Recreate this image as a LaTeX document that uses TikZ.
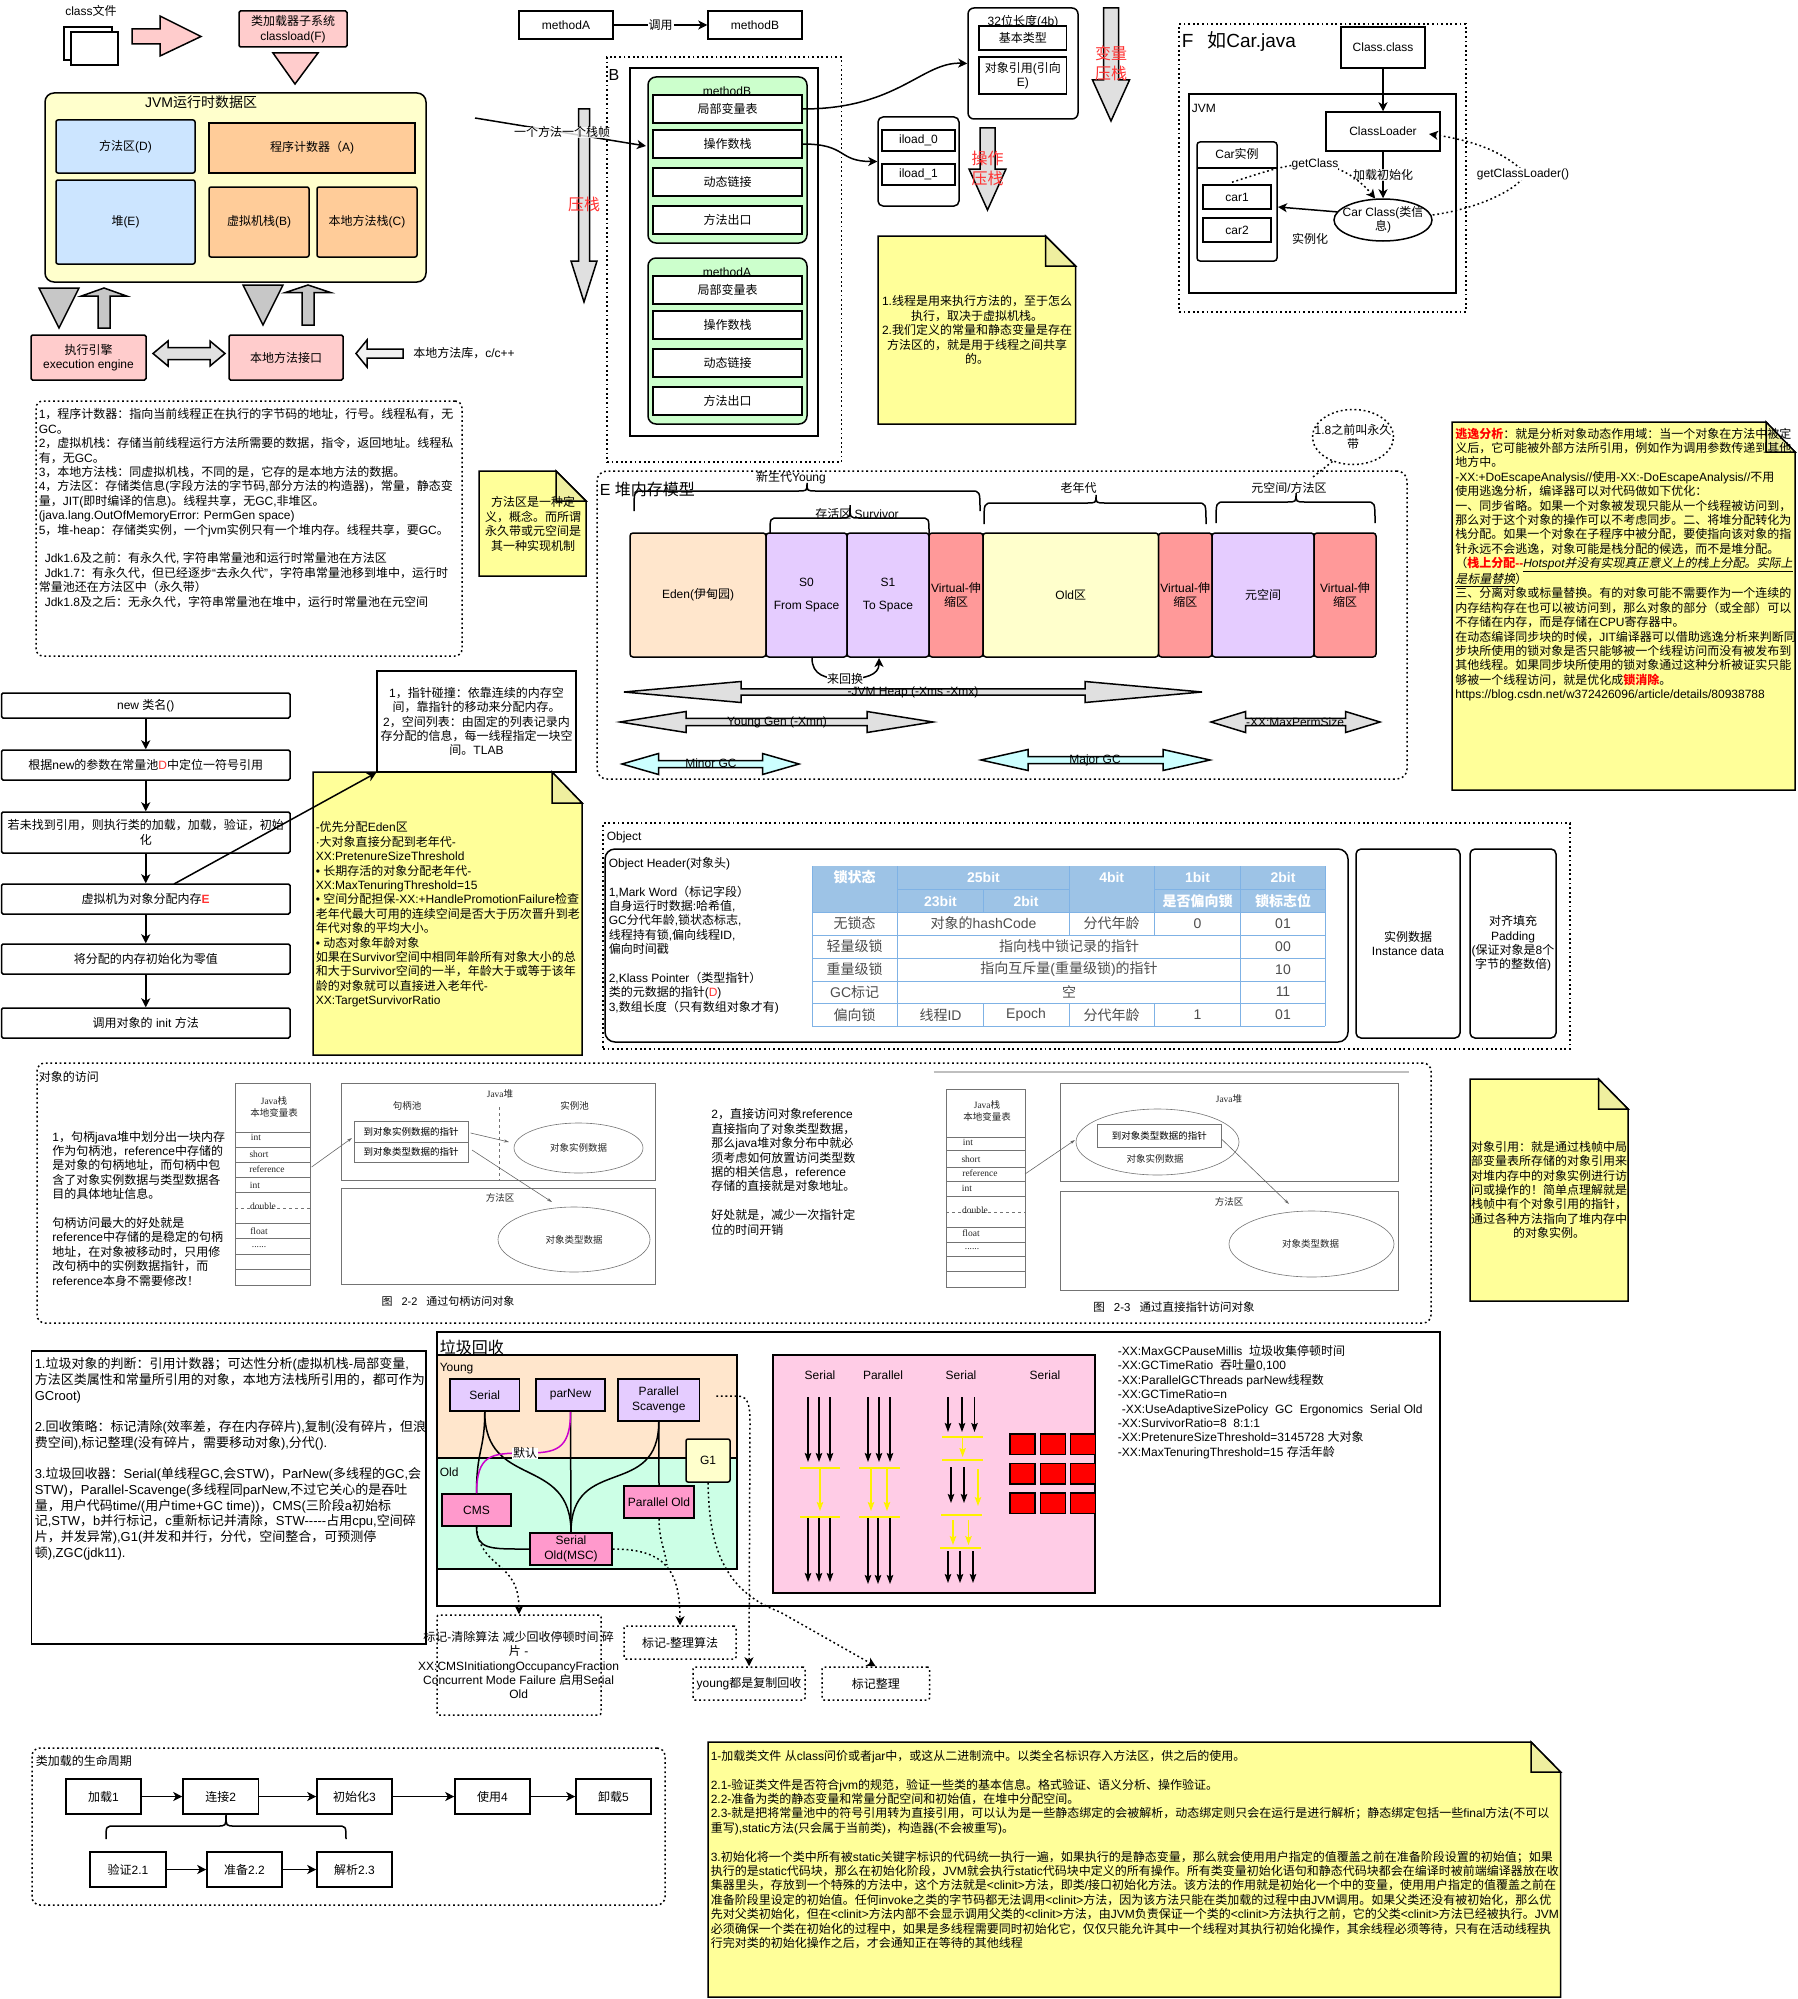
\documentclass[tikz,border=0pt]{standalone}
\usepackage{fontspec}
\setmainfont{Liberation Sans}
\newfontfamily\cjk[AutoFakeSlant=0.2]{Noto Sans CJK SC}
\newfontfamily\imgfont{Liberation Serif}
\usetikzlibrary{arrows.meta,shapes.geometric}

% latin text and hanzi each get their own font
\XeTeXinterchartokenstate=1
\newXeTeXintercharclass\cjkclass
\newcount\cjkchar
\cjkchar="3000
\loop\ifnum\cjkchar<"A000 \XeTeXcharclass\cjkchar=\cjkclass \advance\cjkchar by 1 \repeat
\cjkchar="FF00
\loop\ifnum\cjkchar<"FFF0 \XeTeXcharclass\cjkchar=\cjkclass \advance\cjkchar by 1 \repeat
\XeTeXcharclass"201C=0
\XeTeXcharclass"201D=0
\XeTeXinterchartoks 0 \cjkclass={\cjk}
\XeTeXinterchartoks 4095 \cjkclass={\cjk}
\XeTeXinterchartoks \cjkclass 0={\rmfamily}
\XeTeXinterchartoks \cjkclass 4095={\rmfamily}

\definecolor{pinkfill}{HTML}{FFCCCC}
\definecolor{yellowfill}{HTML}{FFFFCC}
\definecolor{bluefill}{HTML}{CCE5FF}
\definecolor{orangefill}{HTML}{FFCC99}
\definecolor{greenfill}{HTML}{CCFFCC}
\definecolor{peachfill}{HTML}{FFE6CC}
\definecolor{purplefill}{HTML}{E5CCFF}
\definecolor{redfill}{HTML}{FF9999}
\definecolor{mintfill}{HTML}{CCFFE6}
\definecolor{rosefill}{HTML}{FF99CC}
\definecolor{lightrose}{HTML}{FFCCE6}
\definecolor{cyanfill}{HTML}{CCFFFF}
\definecolor{notefill}{HTML}{FFFF99}
\definecolor{foldfill}{HTML}{EFEF9F}
\definecolor{tablehead}{HTML}{9DC3E6}
\definecolor{tableline}{HTML}{7FB2E5}
\definecolor{redtext}{HTML}{FF3333}
\definecolor{defaultpath}{HTML}{CC00CC}

\tikzset{
  every node/.style={font=\fontsize{12}{14.4}\selectfont,align=center,inner sep=0pt},
  every path/.style={line width=1.5pt},
  cellbox/.style={draw,fill=white},
  softbox/.style={draw,rounded corners=4pt},
  dotbox/.style={draw,rounded corners=7pt,dash pattern=on 1.8pt off 2.8pt},
  flow/.style={-{Stealth[length=9pt,width=9pt,inset=2.5pt]}},
  dotflow/.style={flow,dash pattern=on 1.8pt off 2.8pt},
  thinflow/.style={-{Stealth[length=9pt,width=6.5pt,inset=1.5pt]},line width=1.2pt},
  yellowflow/.style={thinflow,yellow},
  yellowbar/.style={yellow,line width=1.6pt},
  graywhite/.style={draw,fill=black!12},
  graytip/.style={draw,fill=black!22},
  imgline/.style={draw=black!55,line width=0.6pt},
  imgflow/.style={black!60,line width=0.6pt,-{Stealth[length=5pt,width=3pt]}},
  imgtext/.style={font=\fontsize{9.5}{12}\selectfont\imgfont,black!85},
  redword/.style={font=\fontsize{16}{20}\selectfont,redtext},
  bigword/.style={font=\fontsize{16}{19}\selectfont},
  bracepath/.style={line width=1.5pt},
  headcell/.style={font=\fontsize{14}{16}\selectfont\bfseries,white},
  datacell/.style={font=\fontsize{14}{16}\selectfont,black!70},
}

% node given by its corners
\newcommand{\boxat}[7][cellbox]{\node[#1,minimum width={#5-#3},minimum height={#6-#4}] (#2) at ({(#3+#5)/2},{(#4+#6)/2}) {#7};}
% sheet with a folded corner
\newcommand{\notesheet}[6]{%
  \draw[fill=notefill] (#1,#2) -- (#5,#2) -- (#3,#6) -- (#3,#4) -- (#1,#4) -- cycle;
  \draw[fill=foldfill] (#5,#2) -- (#3,#6) -- (#5,#6) -- cycle;}
% two-headed horizontal block arrow
\newcommand{\hdouble}[7]{\draw[#1] (#2,#4) -- ({#2+#5},{#4-#6}) -- ({#2+#5},{#4-#7}) -- ({#3-#5},{#4-#7}) -- ({#3-#5},{#4-#6}) -- (#3,#4) -- ({#3-#5},{#4+#6}) -- ({#3-#5},{#4+#7}) -- ({#2+#5},{#4+#7}) -- ({#2+#5},{#4+#6}) -- cycle;}
% vertical block arrow: x, tail, tip, head base, head half, shaft half
\newcommand{\vblock}[7]{\draw[#1] ({#2-#7},#3) -- ({#2-#7},#5) -- ({#2-#6},#5) -- (#2,#4) -- ({#2+#6},#5) -- ({#2+#7},#5) -- ({#2+#7},#3) -- cycle;}
% curly brace opening downwards
\newcommand{\topbrace}[6]{\draw[bracepath] (#1,#3) .. controls (#1,#4) .. ({#1+9},#4) -- ({#5-9},#4) .. controls (#5,#4) .. (#5,#6) .. controls (#5,#4) .. ({#5+9},#4) -- ({#2-9},#4) .. controls (#2,#4) .. (#2,#3);}

\begin{document}
\begin{tikzpicture}[x=1pt,y=-1pt]
\useasboundingbox (0,0) rectangle (1798,1999);

% class loading and runtime areas
\node (classfile) at (91,11) {class文件};
\draw[fill=white] (64,27) rectangle (112,60);
\draw[fill=white] (71,32) rectangle (118,65);
\draw[fill=pinkfill] (132,29) -- (160,29) -- (160,16) -- (201,36.5) -- (160,56) -- (160,44) -- (132,44) -- cycle;
\boxat[softbox,fill=pinkfill,rounded corners=1.5pt]{loader}{239}{11}{347}{47}{类加载器子系统\\classload(F)}
\draw[fill=pinkfill] (273,53) -- (318,53) -- (295,84) -- cycle;
\boxat[softbox,fill=yellowfill,rounded corners=9pt]{jvmarea}{45}{93}{426}{282}{}
\node[font=\fontsize{14}{16}\selectfont] (jvmtitle) at (201,102) {JVM运行时数据区};
\boxat[softbox,fill=bluefill,rounded corners=2pt]{methodarea}{56}{120}{195}{173}{方法区(D)}
\boxat[softbox,fill=bluefill,rounded corners=2pt]{heaparea}{56}{180}{195}{264}{堆(E)}
\boxat[cellbox,fill=orangefill]{pcarea}{209}{123}{415}{173}{程序计数器（A)}
\boxat[softbox,fill=orangefill,rounded corners=2pt]{vmstack}{209}{187}{309}{257}{虚拟机栈(B)}
\boxat[softbox,fill=orangefill,rounded corners=2pt]{nativestack}{317}{187}{417}{257}{本地方法栈(C)}
\draw[graytip] (39,288) -- (79,288) -- (59,328) -- cycle;
\vblock{graytip}{104}{328}{288}{296}{22.5}{6}
\draw[graytip] (243,285) -- (283,285) -- (263,325) -- cycle;
\vblock{graytip}{308}{325}{285}{292.5}{22.5}{6}
\boxat[softbox,fill=pinkfill,rounded corners=1.5pt]{engine}{31}{335}{146}{380}{执行引擎\\execution engine}
\boxat[softbox,fill=pinkfill,rounded corners=1.5pt]{nativeport}{229}{335}{343}{380}{本地方法接口}
\hdouble{graywhite}{153}{225}{353.5}{15}{12.5}{6}
\draw[fill=black!5] (356,353.5) -- (367,340) -- (367,349) -- (403,349) -- (403,358) -- (367,358) -- (367,367) -- cycle;
\node[anchor=west] (nativelib) at (412.5,353) {本地方法库，c/c++};
\boxat[dotbox]{areanotes}{36}{401}{462}{656}{}
\node[anchor=west,align=left] (areatext) at (38,508) {1，程序计数器：指向当前线程正在执行的字节码的地址，行号。线程私有，无\\
GC。\\
2，虚拟机栈：存储当前线程运行方法所需要的数据，指令，返回地址。线程私\\
有，无GC。\\
3，本地方法栈：同虚拟机栈，不同的是，它存的是本地方法的数据。\\
4，方法区：存储类信息(字段方法的字节码,部分方法的构造器)，常量，静态变\\
量，JIT(即时编译的信息)。线程共享，无GC,非堆区。\\
(java.lang.OutOfMemoryError: PermGen space)\\
5，堆-heap：存储类实例，一个jvm实例只有一个堆内存。线程共享，要GC。\\[14.4pt]
\hspace*{6pt}Jdk1.6及之前：有永久代, 字符串常量池和运行时常量池在方法区\\
\hspace*{6pt}Jdk1.7：有永久代，但已经逐步“去永久代”，字符串常量池移到堆中，运行时\\
常量池还在方法区中（永久带）\\
\hspace*{6pt}Jdk1.8及之后：无永久代，字符串常量池在堆中，运行时常量池在元空间};
\notesheet{479}{471}{586}{576}{556}{501}
\node (methodnote) at (533,524) {方法区是一种定\\义，概念。而所谓\\永久带或元空间是\\其一种实现机制};

% stack frames
\boxat{callerA}{519}{11}{613}{39}{methodA}
\boxat{calleeB}{708}{11}{802}{39}{methodB}
\draw[flow] (callerA) -- node[fill=white,inner xsep=1pt] (calllabel) {调用} (calleeB);
\boxat[dotbox,rounded corners=0pt]{stackdots}{607}{57}{841.5}{462}{}
\node[bigword] (stacktag) at (614,75) {B};
\draw (630,68) rectangle (818,436);
\boxat[softbox,fill=greenfill,rounded corners=8pt]{frameB}{648}{77}{807}{243}{}
\boxat[softbox,fill=greenfill,rounded corners=8pt]{frameA}{648}{258}{807}{424}{}
\node (frameBtitle) at (727,91) {methodB};
\node (frameAtitle) at (727,272) {methodA};
\boxat{varsB}{653}{95}{802}{123}{局部变量表}
\boxat{opsB}{653}{130}{802}{158}{操作数栈}
\boxat{linkB}{653}{168}{802}{196}{动态链接}
\boxat{exitB}{653}{206}{802}{234}{方法出口}
\boxat{varsA}{653}{276}{802}{304}{局部变量表}
\boxat{opsA}{653}{311}{802}{339}{操作数栈}
\boxat{linkA}{653}{349}{802}{377}{动态链接}
\boxat{exitA}{653}{387}{802}{415}{方法出口}
\vblock{graywhite}{584}{109}{302}{261}{13}{5.5}
\node[redword] (pushword) at (584,204) {压栈};
\coordinate (framestart) at (475,118);
\coordinate (frameport) at (646,146);
\draw[flow] (framestart) -- (frameport) node[pos=0.51,fill=white,fill opacity=0.8,text opacity=1] (framelabel) {一个方法一个栈帧};
\boxat[softbox,rounded corners=6pt]{slots}{968}{8}{1078}{119}{}
\node (slotwidth) at (1023,22) {32位长度(4b)};
\boxat{primtype}{979}{26}{1066.5}{50}{基本类型}
\boxat{objref}{979}{57}{1066.5}{94}{对象引用(引向\\E)}
\draw[flow] (varsB.east) .. controls +(95,0) and +(-45,-2) .. (slots.west);
\boxat[softbox,rounded corners=5pt]{iloads}{878}{117}{959}{206}{}
\boxat{iloadzero}{882}{130}{955}{151}{iload\_0}
\boxat{iloadone}{882}{164}{955}{185}{iload\_1}
\draw[flow] (opsB.east) .. controls +(45,0) and +(-40,0) .. (iloads.west);
\vblock{graywhite}{1111}{8}{121}{80}{18.5}{7.5}
\node[redword] (varpush) at (1111,63) {变量\\压栈};
\vblock{graywhite}{987.5}{128}{210}{169}{18.5}{7.5}
\node[redword] (oppush) at (987.5,168) {操作\\压栈};
\notesheet{878}{236}{1075.5}{424}{1045.5}{266}
\node (threadnote) at (977,330) {1.线程是用来执行方法的，至于怎么\\执行，取决于虚拟机栈。\\2.我们定义的常量和静态变量是存在\\方法区的，就是用于线程之间共享\\的。};

% Car.java
\boxat[dotbox,rounded corners=0pt]{carframe}{1179}{24}{1466}{312}{}
\node[anchor=west,font=\fontsize{19}{21}\selectfont] (cartitle) at (1181,42) {F\hspace{14pt}如Car.java};
\boxat[draw]{jvmbox}{1189}{94}{1456}{293}{}
\node[anchor=west] (jvmtag) at (1191,108) {JVM};
\boxat{classclass}{1341}{27}{1425}{68}{Class.class}
\boxat{classloader}{1326}{112}{1440}{151}{ClassLoader}
\boxat[softbox,rounded corners=3pt]{carshell}{1197}{142}{1277}{261}{}
\draw (1197,168) -- (1277,168);
\node (cartag) at (1237,154) {Car实例};
\boxat{carone}{1203}{185}{1271}{209}{car1}
\boxat{cartwo}{1203}{218}{1271}{242}{car2}
\node[draw,ellipse,fill=white,minimum width=98pt,minimum height=42pt] (carclass) at (1383,220) {};
\node (carclasstext) at (1383,220) {Car Class(类信\\息)};
\draw[flow] (classclass) -- (classloader);
\draw[flow] (classloader) -- node[fill=white,fill opacity=0.8,text opacity=1] (loadlabel) {加载初始化} (carclass);
\coordinate (carinlet) at (1278,207);
\draw[flow] (carclass.170) -- (carinlet);
\node (instlabel) at (1310,239) {实例化};
\coordinate (getclassmid) at (1315,164);
\coordinate (loaderport) at (1429,134);
\draw[dash pattern=on 1.8pt off 2.8pt] (carone.north) ++(-5,-2) .. controls (1270,170) and (1290,163) .. (getclassmid);
\draw[dotflow] (getclassmid) .. controls (1340,165) and (1360,180) .. (carclass.110);
\node[fill=white] (getclasslabel) at (getclassmid) {getClass};
\draw[dotflow] (carclass.east) ++(0,-5) .. controls (1500,205) and (1535,175) .. (1522,170) .. controls (1500,150) and (1470,140) .. (loaderport);
\node[fill=white] (getloaderlabel) at (1523,174) {getClassLoader()};

% object creation
\boxat[softbox,rounded corners=1.5pt]{newbox}{1.5}{693}{290}{718}{new 类名()}
\boxat[softbox,rounded corners=1.5pt]{lookup}{1.5}{750}{290}{780}{根据new的参数在常量池{\color{redtext}D}中定位一符号引用}
\boxat[softbox,rounded corners=1.5pt]{loadstep}{1.5}{812}{290}{853}{若未找到引用，则执行类的加载，加载，验证，初始\\化}
\boxat[softbox,rounded corners=1.5pt]{allocbox}{1.5}{884}{290}{914}{虚拟机为对象分配内存{\color{redtext}\bfseries E}}
\boxat[softbox,rounded corners=1.5pt]{zerobox}{1.5}{944}{290}{974}{将分配的内存初始化为零值}
\boxat[softbox,rounded corners=1.5pt]{initbox}{1.5}{1008}{290}{1038}{调用对象的 init 方法}
\draw[flow] (newbox) -- (lookup);
\draw[flow] (lookup) -- (loadstep);
\draw[flow] (loadstep) -- (allocbox);
\draw[flow] (allocbox) -- (zerobox);
\draw[flow] (zerobox) -- (initbox);
\boxat{tlabbox}{377}{671}{576}{772}{1，指针碰撞：依靠连续的内存空\\间，靠指针的移动来分配内存。\\2，空间列表：由固定的列表记录内\\存分配的信息，每一线程指定一块空\\间。TLAB}
\notesheet{313}{772}{582}{1055}{552}{803}
\node[anchor=west,align=left] (allocnote) at (315,914.5) {-优先分配Eden区\\
·大对象直接分配到老年代-\\
XX:PretenureSizeThreshold\\
• 长期存活的对象分配老年代-\\
XX:MaxTenuringThreshold=15\\
• 空间分配担保-XX:+HandlePromotionFailure检查\\
老年代最大可用的连续空间是否大于历次晋升到老\\
年代对象的平均大小。\\
• 动态对象年龄对象\\
如果在Survivor空间中相同年龄所有对象大小的总\\
和大于Survivor空间的一半，年龄大于或等于该年\\
龄的对象就可以直接进入老年代-\\
XX:TargetSurvivorRatio};
\draw[flow] (174,884) -- (tlabbox.south west);

% heap layout
\boxat[dotbox,rounded corners=10pt]{heapframe}{597}{471}{1407}{779}{}
\node[anchor=west,bigword] (heaptitle) at (599,489) {E 堆内存模型};
\foreach \bx/\ex/\col/\bname/\btext in {
  630/766/peachfill/edenbox/Eden(伊甸园),
  766/847/purplefill/szero/S0\\[8pt]From Space,
  847/929/purplefill/sone/S1\\[8pt]To Space,
  929/983/redfill/virtone/Virtual-伸\\缩区,
  983/1158.5/yellowfill/oldbox/Old区,
  1158.5/1212/redfill/virttwo/Virtual-伸\\缩区,
  1212/1314/purplefill/metabox/元空间,
  1314/1376/redfill/virtthree/Virtual-伸\\缩区}
  {\boxat[softbox,fill=\col,rounded corners=3pt]{\bname}{\bx}{533}{\ex}{657}{\btext}}
\topbrace{634}{980}{511}{491}{807}{483}
\node (younglabel) at (791,478) {新生代Young};
\topbrace{770}{929}{533}{518}{850}{505}
\node (survivorlabel) at (857,514) {存活区 Survivor};
\topbrace{984}{1206}{524}{503}{1096}{495}
\node (oldlabel) at (1078.5,488) {老年代};
\topbrace{1216}{1375}{523}{502}{1296}{493}
\node (metalabel) at (1289,488) {元空间/方法区};
\coordinate (swapend) at (879,658);
\draw[flow] (812,658) .. controls (812,675) and (825,679) .. (845,679) .. controls (865,679) and (879,675) .. (swapend);
\node[fill=white] (swaplabel) at (845,679) {来回换};
\hdouble{graywhite}{624}{1202}{692}{117}{10.5}{3.2}
\node (heaplabel) at (913,692) {-JVM Heap (-Xms -Xmx)};
\hdouble{graywhite}{620}{933}{722}{66}{10.5}{3.7}
\node (younggen) at (777,722) {Young Gen (-Xmn)};
\hdouble{graywhite}{1211}{1380}{722}{34.5}{10.5}{3.7}
\node (permsize) at (1295,722) {-XX:MaxPermSize};
\hdouble{fill=cyanfill,draw}{622}{799}{764}{36.5}{10.5}{3.5}
\node (minorgc) at (711,763.5) {Minor GC};
\hdouble{fill=cyanfill,draw}{981}{1210}{760}{47}{10.5}{3.5}
\node (majorgc) at (1095,760) {Major GC};
\node[draw,ellipse,dash pattern=on 1.8pt off 2.8pt,minimum width=81pt,minimum height=55pt] (permcloud) at (1353,437) {};
\node (permtext) at (1353,437) {1.8之前叫永久\\带};
\draw[dash pattern=on 1.8pt off 2.8pt] (permcloud.230) -- (1313,477);

% escape analysis note
\notesheet{1452}{422}{1795}{790}{1766}{452}
\node[anchor=west,align=left] (escapenote) at (1454.5,564.5) {{\color{red}\bfseries 逃逸分析}：就是分析对象动态作用域：当一个对象在方法中被定\\
义后，它可能被外部方法所引用，例如作为调用参数传递到其他\\
地方中。\\
-XX:+DoEscapeAnalysis//使用-XX:-DoEscapeAnalysis//不用\\
使用逃逸分析，编译器可以对代码做如下优化：\\
一、同步省略。如果一个对象被发现只能从一个线程被访问到，\\
那么对于这个对象的操作可以不考虑同步。二、将堆分配转化为\\
栈分配。如果一个对象在子程序中被分配，要使指向该对象的指\\
针永远不会逃逸，对象可能是栈分配的候选，而不是堆分配。\\
（{\color{red}\bfseries 栈上分配-{}-}\underline{\itshape Hotspot并没有实现真正意义上的栈上分配。实际上}\\
\underline{\itshape 是标量替换}）\\
三、分离对象或标量替换。有的对象可能不需要作为一个连续的\\
内存结构存在也可以被访问到，那么对象的部分（或全部）可以\\
不存储在内存，而是存储在CPU寄存器中。\\
在动态编译同步块的时候，JIT编译器可以借助逃逸分析来判断同\\
步块所使用的锁对象是否只能够被一个线程访问而没有被发布到\\
其他线程。如果同步块所使用的锁对象通过这种分析被证实只能\\
够被一个线程访问，就是优化成{\color{red}\bfseries 锁消除}。\\
https://blog.csdn.net/w372426096/article/details/80938788};

% object layout
\boxat[dotbox,rounded corners=0pt]{objectframe}{603}{823}{1570}{1049}{}
\node[anchor=west] (objecttag) at (606,837) {Object};
\boxat[softbox,rounded corners=10pt]{headerbox}{605}{849}{1348}{1042}{}
\boxat[softbox,rounded corners=5pt]{instancebox}{1356}{849}{1460}{1038}{实例数据\\Instance data}
\boxat[softbox,rounded corners=5pt]{paddingbox}{1470}{849}{1556}{1038}{对齐填充\\Padding\\(保证对象是8个\\字节的整数倍)}
\node[anchor=west,align=left] (headertext) at (608,935.5) {Object Header(对象头)\\[14.4pt]
1,Mark Word（标记字段）\\
自身运行时数据:哈希值,\\
GC分代年龄,锁状态标志,\\
线程持有锁,偏向线程ID,\\
偏向时间戳\\[14.4pt]
2,Klass Pointer（类型指针）\\
类的元数据的指针({\color{redtext}D})\\
3,数组长度（只有数组对象才有)};
\fill[tablehead] (812,866) rectangle (1325,912);
\draw[tableline,line width=1pt] (812,912) -- (1325,912);
\draw[tableline,line width=1pt] (897.4,889) -- (1069,889) (1154.4,889) -- (1325,889);
\foreach \ty in {935,958,981,1003,1026}
  \draw[tableline,line width=1pt] (812,\ty) -- (1325,\ty);
\foreach \tx in {812,897.4,1069,1154.4,1240.5,1325}
  \draw[tableline,line width=0.7pt] (\tx,866) -- (\tx,912);
\draw[tableline,line width=0.7pt] (983.5,889) -- (983.5,912);
\foreach \tx in {812,897.4,1240.5,1325}
  \draw[tableline,line width=0.7pt] (\tx,912) -- (\tx,1026);
\foreach \tx in {1069,1154.4}
  \draw[tableline,line width=0.7pt] (\tx,912) -- (\tx,935) (\tx,1003) -- (\tx,1026);
\draw[tableline,line width=0.7pt] (983.5,1003) -- (983.5,1026);
\foreach \cx/\cy/\cname/\ctext in {
  854.7/877/hlock/锁状态, 983.5/877/hbits/25bit, 1111.7/877/hage/4bit, 1197.5/877/hbias/1bit, 1283/877/hflag/2bit,
  940.5/901/hhash/23bit, 1026/901/hepoch/2bit, 1197.5/901/hisbias/是否偏向锁, 1283/901/hmark/锁标志位}
  \node[headcell] (\cname) at (\cx,\cy) {\ctext};
\foreach \cx/\cy/\cname/\ctext in {
  854.7/923.5/rnolock/无锁态, 983.5/923.5/rhash/对象的hashCode, 1111.7/923.5/rage/分代年龄, 1197.5/923.5/rzero/0, 1283/923.5/rflagone/01,
  854.7/946.5/rlight/轻量级锁, 1069/946.5/rlock/指向栈中锁记录的指针, 1283/946.5/rflagtwo/00,
  854.7/969.5/rheavy/重量级锁, 1069/969.5/rmutex/指向互斥量(重量级锁)的指针, 1283/969.5/rflagthree/10,
  854.7/992/rgc/GC标记, 1069/992/rempty/空, 1283/992/rflagfour/11,
  854.7/1015/rbias/偏向锁, 940.5/1015/rthread/线程ID, 1026/1015/repoch/Epoch, 1111.7/1015/ragetwo/分代年龄, 1197.5/1015/rone/1, 1283/1015/rflagfive/01}
  \node[datacell] (\cname) at (\cx,\cy) {\ctext};

% object access
\boxat[dotbox,rounded corners=8pt]{accessframe}{37}{1063}{1431}{1323}{}
\node[anchor=west] (accesstitle) at (38,1077) {对象的访问};
\node[anchor=west,align=left] (handletext) at (51.6,1208.5) {1，句柄java堆中划分出一块内存\\
作为句柄池，reference中存储的\\
是对象的句柄地址，而句柄中包\\
含了对象实例数据与类型数据各\\
目的具体地址信息。\\[14.4pt]
句柄访问最大的好处就是\\
reference中存储的是稳定的句柄\\
地址，在对象被移动时，只用修\\
改句柄中的实例数据指针，而\\
reference本身不需要修改！};
\node[anchor=west,align=left] (directtext) at (710.6,1172) {2，直接访问对象reference\\
直接指向了对象类型数据，\\
那么java堆对象分布中就必\\
须考虑如何放置访问类型数\\
据的相关信息，reference\\
存储的直接就是对象地址。\\[14.4pt]
好处就是，减少一次指针定\\
位的时间开销};
% left figure
\draw[imgline] (235,1083) rectangle (310.5,1285);
\foreach \ly in {1132,1147,1162,1177,1192,1223,1238,1254,1269}
  \draw[imgline] (235,\ly) -- (310.5,\ly);
\draw[imgline,dashed] (235,1208) -- (310.5,1208);
\node[imgtext] (stackone) at (274,1107) {Java栈\\本地变量表};
\foreach \lx/\ly/\lname/\ltext in {256/1137/intone/int,259/1154/shortone/short,267/1169/refone/reference,255/1185/inttwo/int,263/1206/doubleone/double,259/1231/floatone/float}
  \node[imgtext] (\lname) at (\lx,\ly) {\ltext};
\node[imgtext] (dotsone) at (259,1247) {......};
\boxat[imgline]{heapone}{341.5}{1083}{655.5}{1180}{}
\boxat[imgline]{methodone}{341.5}{1188}{655.5}{1284}{}
\draw[imgline,dashed] (499,1107) -- (499,1180);
\node[imgtext] (heapnameone) at (500,1094) {Java堆};
\node[imgtext] (poolhandle) at (407,1106) {句柄池};
\node[imgtext] (poolinst) at (574.5,1106) {实例池};
\boxat[imgline]{ptrinst}{354}{1121}{468}{1142}{\fontsize{9.5}{11}\selectfont 到对象实例数据的指针}
\boxat[imgline]{ptrtype}{354}{1142}{468}{1162}{\fontsize{9.5}{11}\selectfont 到对象类型数据的指针}
\node[imgline,ellipse,minimum width=129pt,minimum height=50pt] (instone) at (578.5,1148) {};
\node[imgtext] (instonetext) at (578.5,1148) {对象实例数据};
\node[imgtext] (methodnameone) at (500,1198) {方法区};
\node[imgline,ellipse,minimum width=152pt,minimum height=65pt] (typeone) at (574,1239.5) {};
\node[imgtext] (typeonetext) at (574,1239.5) {对象类型数据};
\coordinate (refonestart) at (311.6,1167);
\coordinate (ptrport) at (352,1138);
\coordinate (instport) at (509,1142);
\coordinate (typeport) at (552,1202);
\draw[imgflow] (refonestart) -- (ptrport);
\draw[imgflow] (470.6,1133) -- (instport);
\draw[imgflow] (472,1150) -- (typeport);
\node[font=\fontsize{11}{13}\selectfont] (captionone) at (448,1301) {图\hspace{9pt}2-2\hspace{9pt}通过句柄访问对象};
% right figure
\draw[black!25,line width=2pt] (933.5,1072) -- (1408.6,1072);
\draw[imgline] (946,1089) rectangle (1025,1287);
\foreach \ly in {1137,1150,1167,1181,1196,1227,1242,1256,1271}
  \draw[imgline] (946,\ly) -- (1025,\ly);
\draw[imgline,dashed] (946,1212) -- (1025,1212);
\node[imgtext] (stacktwo) at (987,1111) {Java栈\\本地变量表};
\foreach \lx/\ly/\lname/\ltext in {968/1142/intthree/int,971/1159/shorttwo/short,980/1173/reftwo/reference,967/1188/intfour/int,975/1210/doubletwo/double,971/1233/floattwo/float}
  \node[imgtext] (\lname) at (\lx,\ly) {\ltext};
\node[imgtext] (dotstwo) at (972,1249) {......};
\boxat[imgline]{heaptwo}{1060}{1083}{1398}{1181}{}
\boxat[imgline]{methodtwo}{1060}{1191}{1398}{1290}{}
\node[imgtext] (heapnametwo) at (1229,1099) {Java堆};
\node[imgline,ellipse,minimum width=163pt,minimum height=66pt] (insttwo) at (1157.5,1142) {};
\boxat[imgline]{ptrtypetwo}{1097}{1124}{1221.5}{1147}{\fontsize{9.5}{11}\selectfont 到对象类型数据的指针}
\node[imgtext] (instnametwo) at (1155,1159) {对象实例数据};
\node[imgtext] (methodnametwo) at (1229,1202) {方法区};
\node[imgline,ellipse,minimum width=165pt,minimum height=66pt] (typetwo) at (1311.5,1244) {};
\node[imgtext] (typenametwo) at (1310.5,1244) {对象类型数据};
\coordinate (reftwostart) at (1025,1174);
\coordinate (insttwoport) at (1075,1140);
\coordinate (typetwoport) at (1289,1204);
\draw[imgflow] (reftwostart) -- (insttwoport);
\draw[imgflow] (1221.5,1139) -- (typetwoport);
\node[font=\fontsize{11.5}{13}\selectfont] (captiontwo) at (1174,1307) {图\hspace{9pt}2-3\hspace{9pt}通过直接指针访问对象};
\notesheet{1470}{1079}{1628}{1301}{1598.5}{1109}
\node (refnote) at (1549,1190) {对象引用：就是通过栈帧中局\\部变量表所存储的对象引用来\\对堆内存中的对象实例进行访\\问或操作的！简单点理解就是\\栈帧中有个对象引用的指针，\\通过各种方法指向了堆内存中\\的对象实例。};

% garbage collection
\boxat{gcnotes}{31.5}{1351}{426}{1644}{}
\node[anchor=west,align=left,font=\fontsize{13}{15.7}\selectfont] (gctext) at (34,1459) {1.垃圾对象的判断：引用计数器；可达性分析(虚拟机栈-局部变量,\\
方法区类属性和常量所引用的对象，本地方法栈所引用的，都可作为\\
GCroot)\\[15.7pt]
2.回收策略：标记清除(效率差，存在内存碎片),复制(没有碎片，但浪\\
费空间),标记整理(没有碎片，需要移动对象),分代().\\[15.7pt]
3.垃圾回收器：Serial(单线程GC,会STW)，ParNew(多线程的GC,会\\
STW)，Parallel-Scavenge(多线程同parNew,不过它关心的是吞吐\\
量，用户代码time/(用户time+GC time))，CMS(三阶段a初始标\\
记,STW，b并行标记，c重新标记并清除，STW-{}-{}-{}-{}-占用cpu,空间碎\\
片，并发异常),G1(并发和并行，分代，空间整合，可预测停\\
顿),ZGC(jdk11).};
\boxat[draw]{gcframe}{437}{1332}{1440}{1606}{}
\node[anchor=west,bigword] (gctitle) at (439,1347) {垃圾回收};
\boxat[cellbox,fill=peachfill]{youngzone}{437}{1355}{737}{1458}{}
\boxat[cellbox,fill=mintfill]{oldzone}{437}{1458}{737}{1569}{}
\node[anchor=west] (youngtag) at (439,1369) {Young};
\node[anchor=west] (oldtag) at (439,1472) {Old};
\boxat[cellbox,fill=purplefill]{serialbox}{450}{1379}{519.5}{1411}{Serial}
\boxat[cellbox,fill=purplefill]{parnewbox}{536}{1379}{605}{1411}{parNew}
\boxat[cellbox,fill=purplefill]{scavbox}{618}{1379}{699.5}{1421}{Parallel\\Scavenge}
\boxat[softbox,fill=yellowfill,rounded corners=2pt]{gonebox}{686}{1439}{730}{1482}{G1}
\boxat[cellbox,fill=rosefill]{cmsbox}{442}{1494}{511}{1526}{CMS}
\boxat[cellbox,fill=rosefill]{paroldbox}{624}{1486}{694}{1518}{Parallel Old}
\boxat[cellbox,fill=rosefill]{seroldbox}{530}{1533}{612}{1565}{Serial\\Old(MSC)}
\draw (serialbox.south) .. controls +(0,39) and +(0,-44) .. (cmsbox.north);
\draw (serialbox.south) .. controls +(0,78) and +(0,-78) .. (seroldbox.north);
\draw (parnewbox.south) -- (seroldbox.north);
\draw (scavbox.south) .. controls +(0,78) and +(0,-78) .. (seroldbox.north);
\draw (scavbox.south) -- (paroldbox.north);
\draw[defaultpath] (parnewbox.south) .. controls +(0,39) and +(30,0) .. (525,1453) .. controls (490,1453) and (477,1455) .. (cmsbox.north);
\draw (cmsbox.south) .. controls +(0,23) and +(-40,0) .. (seroldbox.west);
\node[fill=white,inner xsep=1pt] (defaultlabel) at (525,1453) {默认};
\boxat[dotbox,rounded corners=2pt]{sweepbox}{437}{1615}{601}{1715}{}
\node (sweeptext) at (518.6,1665) {标记-清除算法 减少回收停顿时间 碎\\片 -\\XX:CMSInitiationgOccupancyFraction\\Concurrent Mode Failure 启用Serial\\Old};
\boxat[dotbox,rounded corners=2pt]{compactbox}{624}{1626}{736}{1659}{标记-整理算法}
\boxat[dotbox,rounded corners=2pt]{copybox}{693}{1667}{805}{1700}{young都是复制回收}
\boxat[dotbox,rounded corners=2pt]{markbox}{822}{1667}{929.5}{1700}{标记整理}
\draw[dotflow] (cmsbox.south) .. controls (480,1570) and (519,1560) .. (sweepbox.north);
\draw[dotflow] (seroldbox.east) .. controls (665,1549) and (680,1570) .. (compactbox.north);
\draw[dash pattern=on 1.8pt off 2.8pt] (paroldbox.south) .. controls (659,1540) and (665,1550) .. (667,1565);
\draw[dotflow] (scavbox.east) ++(16,-4) -- (738,1396) .. controls (750,1396) and (750,1410) .. (750,1425) -- (copybox.north);
\draw[dotflow] (gonebox.south) .. controls (709,1540) and (720,1590) .. (780,1612) -- (markbox.north);
% thread pictures
\boxat[cellbox,fill=lightrose]{threadpanel}{773}{1355}{1095}{1593}{}
\foreach \lx/\lname/\ltext in {820/serialone/Serial,883/parallelone/Parallel,961/serialtwo/Serial,1045/serialthree/Serial}
  \node (\lname) at (\lx,1375) {\ltext};
\foreach \ax in {808,819,830} \draw[thinflow] (\ax,1397) -- (\ax,1462);
\foreach \ax in {868,879,890} \draw[thinflow] (\ax,1397) -- (\ax,1462);
\draw[yellowbar] (800,1468) -- (839.5,1468) (800,1517) -- (839.5,1517);
\draw[yellowbar] (859,1468) -- (900,1468) (859,1517) -- (900,1517);
\draw[yellowflow] (820,1469) -- (820,1511);
\foreach \ax in {871,887} \draw[yellowflow] (\ax,1469) -- (\ax,1511);
\foreach \ax in {808,819,830} \draw[thinflow] (\ax,1518) -- (\ax,1582);
\foreach \ax in {868,878,890} \draw[thinflow] (\ax,1518) -- (\ax,1584);
\foreach \ax in {948,962,974.5} \draw[thinflow] (\ax,1397) -- (\ax,1432);
\draw[yellowbar] (942,1437) -- (983,1437) (942,1460) -- (983,1460);
\draw[yellowflow] (962.6,1437) -- (962.6,1457);
\foreach \ax in {951,964} \draw[thinflow] (\ax,1467) -- (\ax,1503);
\draw[yellowflow] (978,1469) -- (978,1506);
\draw[yellowbar] (941,1515) -- (982,1515) (940,1548) -- (981,1548);
\foreach \ax in {953,968.5} \draw[yellowflow] (\ax,1520) -- (\ax,1545);
\foreach \ax in {948,960,973} \draw[thinflow] (\ax,1551) -- (\ax,1583);
\foreach \sx in {1010,1040.6,1070.5} \foreach \sy in {1434,1463.5,1493}
  \draw[fill=red] (\sx,\sy) rectangle +(24.8,20.5);
\node[anchor=west,align=left] (flagstext) at (1117,1402) {-XX:MaxGCPauseMillis\ \ 垃圾收集停顿时间\\
-XX:GCTimeRatio\ \ 吞吐量0,100\\
-XX:ParallelGCThreads parNew线程数\\
-XX:GCTimeRatio=n\\
\hspace*{4pt}-XX:UseAdaptiveSizePolicy\ \ GC\ \ Ergonomics\ \ Serial Old\\
-XX:SurvivorRatio=8\ \ 8:1:1\\
-XX:PretenureSizeThreshold=3145728 大对象\\
-XX:MaxTenuringThreshold=15 存活年龄};

% class lifecycle
\boxat[dotbox,rounded corners=8pt]{lifeframe}{32}{1748}{665}{1905}{}
\node[anchor=west] (lifetitle) at (35,1761) {类加载的生命周期};
\boxat{loadone}{66}{1779}{141}{1814}{加载1}
\boxat{linktwo}{183}{1779}{258.5}{1814}{连接2}
\boxat{initthree}{317}{1779}{392}{1814}{初始化3}
\boxat{usefour}{455}{1779}{530}{1814}{使用4}
\boxat{unloadfive}{576}{1779}{651}{1814}{卸载5}
\boxat{verifysub}{90}{1852}{166}{1887}{验证2.1}
\boxat{preparesub}{207}{1852}{282}{1887}{准备2.2}
\boxat{resolvesub}{317}{1852}{392}{1887}{解析2.3}
\draw[flow] (loadone) -- (linktwo);
\draw[flow] (linktwo) -- (initthree);
\draw[flow] (initthree) -- (usefour);
\draw[flow] (usefour) -- (unloadfive);
\draw[flow] (verifysub) -- (preparesub);
\draw[flow] (preparesub) -- (resolvesub);
\topbrace{106}{346}{1839}{1826}{226}{1815}
\notesheet{708}{1742}{1560.6}{1997}{1531}{1772}
\node[anchor=west,align=left] (lifenote) at (710,1849.5) {1-加载类文件 从class问价或者jar中，或这从二进制流中。以类全名标识存入方法区，供之后的使用。\\[14.4pt]
2.1-验证类文件是否符合jvm的规范，验证一些类的基本信息。格式验证、语义分析、操作验证。\\
2.2-准备为类的静态变量和常量分配空间和初始值，在堆中分配空间。\\
2.3-就是把将常量池中的符号引用转为直接引用，可以认为是一些静态绑定的会被解析，动态绑定则只会在运行是进行解析；静态绑定包括一些final方法(不可以\\
重写),static方法(只会属于当前类)，构造器(不会被重写)。\\[14.4pt]
3.初始化将一个类中所有被static关键字标识的代码统一执行一遍，如果执行的是静态变量，那么就会使用用户指定的值覆盖之前在准备阶段设置的初始值；如果\\
执行的是static代码块，那么在初始化阶段，JVM就会执行static代码块中定义的所有操作。所有类变量初始化语句和静态代码块都会在编译时被前端编译器放在收\\
集器里头，存放到一个特殊的方法中，这个方法就是<clinit>方法，即类/接口初始化方法。该方法的作用就是初始化一个中的变量，使用用户指定的值覆盖之前在\\
准备阶段里设定的初始值。任何invoke之类的字节码都无法调用<clinit>方法，因为该方法只能在类加载的过程中由JVM调用。如果父类还没有被初始化，那么优\\
先对父类初始化，但在<clinit>方法内部不会显示调用父类的<clinit>方法，由JVM负责保证一个类的<clinit>方法执行之前，它的父类<clinit>方法已经被执行。JVM\\
必须确保一个类在初始化的过程中，如果是多线程需要同时初始化它，仅仅只能允许其中一个线程对其执行初始化操作，其余线程必须等待，只有在活动线程执\\
行完对类的初始化操作之后，才会通知正在等待的其他线程};
\end{tikzpicture}
\end{document}
